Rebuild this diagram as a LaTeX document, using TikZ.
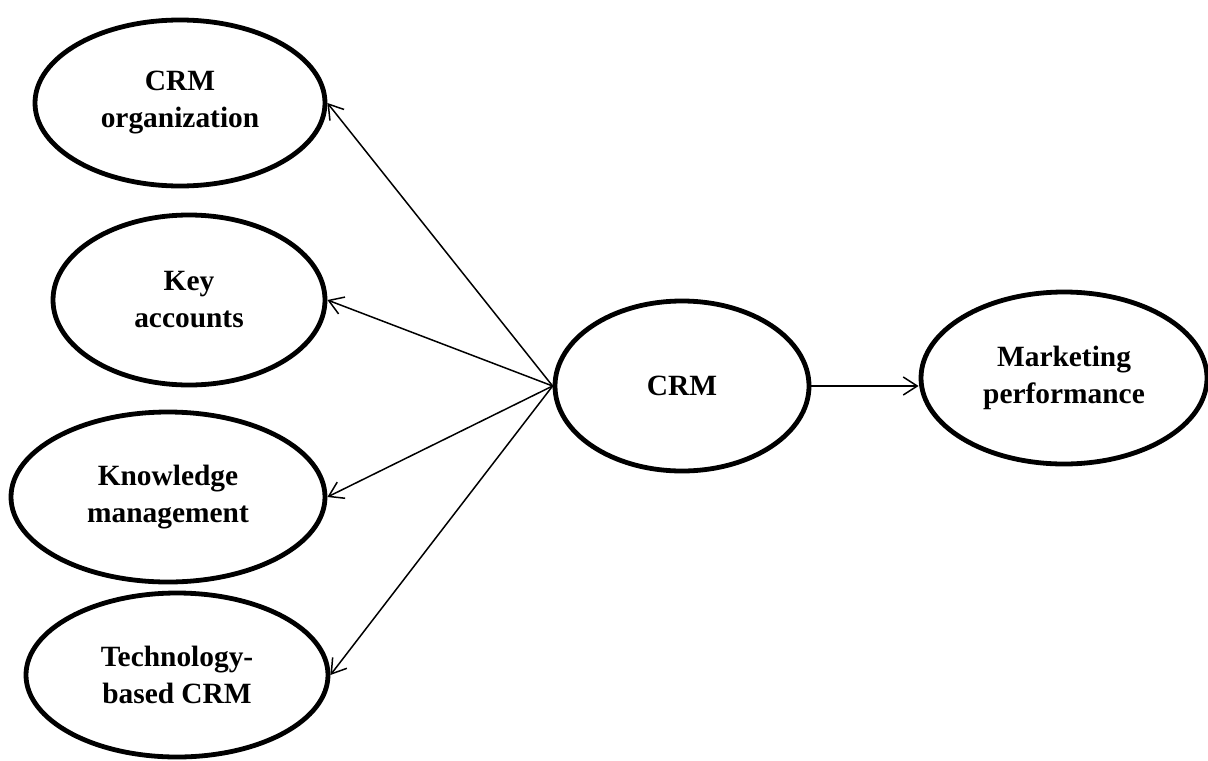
\documentclass[tikz,border=0pt]{standalone}
\usepackage{fontspec}
\setmainfont{Liberation Serif}
\usetikzlibrary{shapes.geometric,arrows.meta}

\tikzset{
  bubble/.style={ellipse, draw, line width=2.4pt, inner sep=0pt, align=center,
    font=\fontsize{14.7}{18.5}\selectfont\bfseries},
  link/.style={line width=0.75pt, -{Straight Barb[length=7pt,width=9pt]}}
}

\begin{document}
\begin{tikzpicture}[x=0.5pt,y=-0.5pt]
		\useasboundingbox (0,0) rectangle (1208,760);
		% factors on the left
		\node[bubble, minimum width=145pt, minimum height=83pt] (org) at (180,103) {CRM\\organization};
		\node[bubble, minimum width=136pt, minimum height=85pt] (key) at (189,300) {Key\\accounts};
		\node[bubble, minimum width=157pt, minimum height=85pt] (know) at (168,497) {Knowledge\\management};
		\node[bubble, minimum width=151pt, minimum height=82pt] (tech) at (177,675) {Technology-\\based CRM};
		% construct and outcome
		\node[bubble, minimum width=127pt, minimum height=85pt] (crm) at (682,386) {CRM};
		\node[bubble, minimum width=143pt, minimum height=86pt] (mkt) at (1064,378) {Marketing\\performance};
		% arrows
		\draw[link] (crm.west) -- (org.east);
		\draw[link] (crm.west) -- (key.east);
		\draw[link] (crm.west) -- (know.east);
		\draw[link] (crm.west) -- (tech.east);
		\draw[link] (crm.east) -- (crm.east -| mkt.west);
	\end{tikzpicture}
\end{document}
